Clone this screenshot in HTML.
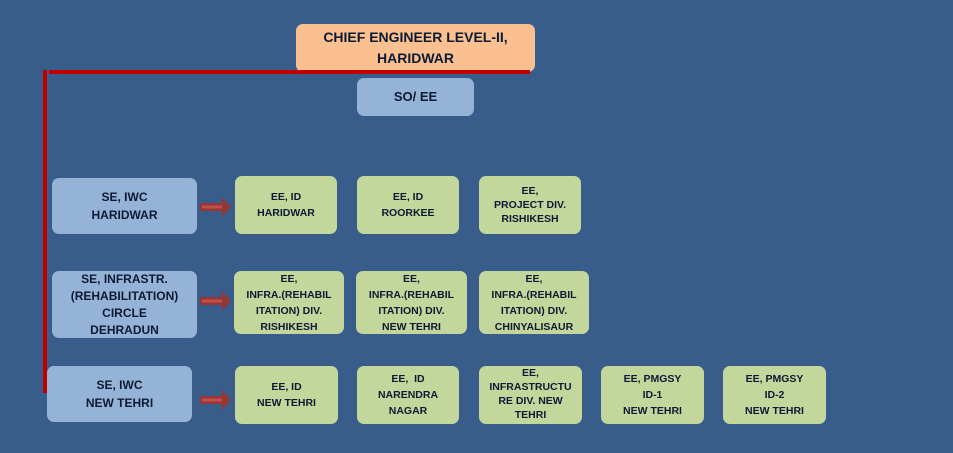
<!DOCTYPE html>
<html><head><meta charset="utf-8"><style>
*{margin:0;padding:0;box-sizing:border-box}
body{width:953px;height:453px;background:#385D8A;position:relative;overflow:hidden;font-family:"Liberation Sans",sans-serif;font-weight:bold;color:#0d1a33}
.b{position:absolute;border-radius:7px;display:flex;align-items:center;justify-content:center;text-align:center;font-size:10.5px;line-height:16px;overflow:hidden}
.g{background:#C3D69B}
.s{background:#95B3D7;font-size:12px;line-height:18px}
.r{position:absolute;background:#C00000}
.a{position:absolute;width:32px;height:20px}
</style></head><body>
<div class="b" style="left:296px;top:24px;width:239px;height:48px;background:#FAC090;font-size:14px;line-height:21px">CHIEF ENGINEER LEVEL-II,<br>HARIDWAR</div>
<div class="r" style="left:43px;top:70px;width:4px;height:323px"></div>
<div class="r" style="left:49px;top:70px;width:481px;height:4px"></div>
<div class="b s" style="left:357px;top:78px;width:117px;height:38px;font-size:13px">SO/ EE</div>

<div class="b s" style="left:52px;top:178px;width:145px;height:56px">SE, IWC<br>HARIDWAR</div>
<div class="b g" style="left:235px;top:176px;width:102px;height:58px">EE, ID<br>HARIDWAR</div>
<div class="b g" style="left:357px;top:176px;width:102px;height:58px">EE, ID<br>ROORKEE</div>
<div class="b g" style="left:479px;top:176px;width:102px;height:58px;line-height:14px">EE,<br>PROJECT DIV.<br>RISHIKESH</div>

<div class="b s" style="left:52px;top:271px;width:145px;height:67px;line-height:17px;align-items:flex-start;padding-top:0">SE, INFRASTR.<br>(REHABILITATION)<br>CIRCLE<br>DEHRADUN</div>
<div class="b g" style="left:234px;top:271px;width:110px;height:63px">EE,<br>INFRA.(REHABIL<br>ITATION) DIV.<br>RISHIKESH</div>
<div class="b g" style="left:356px;top:271px;width:111px;height:63px">EE,<br>INFRA.(REHABIL<br>ITATION) DIV.<br>NEW TEHRI</div>
<div class="b g" style="left:479px;top:271px;width:110px;height:63px">EE,<br>INFRA.(REHABIL<br>ITATION) DIV.<br>CHINYALISAUR</div>

<div class="b s" style="left:47px;top:366px;width:145px;height:56px">SE, IWC<br>NEW TEHRI</div>
<div class="b g" style="left:235px;top:366px;width:103px;height:58px">EE, ID<br>NEW TEHRI</div>
<div class="b g" style="left:357px;top:366px;width:102px;height:58px">EE,&nbsp; ID<br>NARENDRA<br>NAGAR</div>
<div class="b g" style="left:479px;top:366px;width:103px;height:58px;line-height:14px;align-items:flex-start">EE,<br>INFRASTRUCTU<br>RE DIV. NEW<br>TEHRI</div>
<div class="b g" style="left:601px;top:366px;width:103px;height:58px">EE, PMGSY<br>ID-1<br>NEW TEHRI</div>
<div class="b g" style="left:723px;top:366px;width:103px;height:58px">EE, PMGSY<br>ID-2<br>NEW TEHRI</div>

<svg class="a" style="left:200px;top:197px" viewBox="0 0 32 20"><path d="M0 6H22V0L31 10 22 20V14H0Z" fill="#953735"/><rect x="2" y="8.5" width="20" height="3" fill="#c0504d"/></svg>
<svg class="a" style="left:200px;top:291px" viewBox="0 0 32 20"><path d="M0 6H22V0L31 10 22 20V14H0Z" fill="#953735"/><rect x="2" y="8.5" width="20" height="3" fill="#c0504d"/></svg>
<svg class="a" style="left:200px;top:390px" viewBox="0 0 32 20"><path d="M0 6H22V0L31 10 22 20V14H0Z" fill="#953735"/><rect x="2" y="8.5" width="20" height="3" fill="#c0504d"/></svg>
</body></html>
